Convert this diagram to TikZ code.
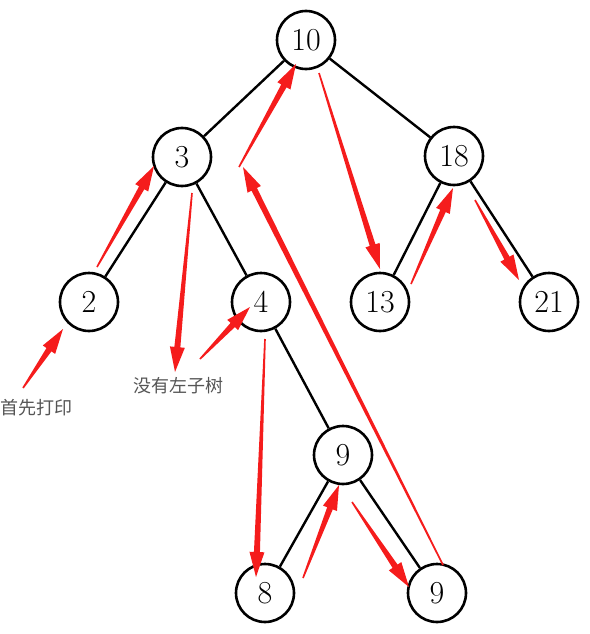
\documentclass[tikz,border=0pt]{standalone}
\usepackage{fontspec}
\newfontfamily\cjk{Noto Sans CJK SC}
\usetikzlibrary{calc}
\definecolor{trailRed}{HTML}{F51C1C}
\definecolor{noteGray}{HTML}{555555}
\tikzset{
  bnode/.style={circle, draw=black, line width=2.6pt, fill=white,
                minimum size=58pt, inner sep=0pt, font=\fontsize{32}{32}\selectfont},
  bedge/.style={draw=black, line width=2.4pt},
  note/.style={font=\cjk\fontsize{18}{18}\selectfont, text=noteGray},
  trail/.style={fill=trailRed},
}
% tapered red arrow from #1 to #2
\newcommand{\trailarrow}[2]{%
  \coordinate (tb) at ($(#2)!25pt!(#1)$);
  \fill[trail] ($(#1)!0.8pt!-90:(#2)$) -- ($(#1)!0.8pt!90:(#2)$)
    -- ($(tb)!3pt!-90:(#1)$) -- ($(tb)!7.5pt!-90:(#1)$) -- (#2)
    -- ($(tb)!7.5pt!90:(#1)$) -- ($(tb)!3pt!90:(#1)$) -- cycle;
}

\begin{document}
\begin{tikzpicture}[x=1pt, y=-1pt]
  \useasboundingbox (0,0) rectangle (589,634);
  % tree
  \node[bnode] (n10) at (306,40) {10};
  \node[bnode] (n3)  at (182,157) {3};
  \node[bnode] (n18) at (454,156) {18};
  \node[bnode] (n2)  at (89,302) {2};
  \node[bnode] (n4)  at (261,302) {4};
  \node[bnode] (n13) at (380,302) {13};
  \node[bnode] (n21) at (549,302) {21};
  \node[bnode] (n9)  at (343,455) {9};
  \node[bnode] (n8)  at (265,593) {8};
  \node[bnode] (n9r) at (437,593) {9};
  \foreach \a/\b in {n10/n3, n10/n18, n3/n2, n3/n4, n18/n13, n18/n21,
                     n4/n9, n9/n8, n9/n9r}
    \draw[bedge] (\a) -- (\b);
  % notes
  \node[note] (first) at (37,408) {首先打印};
  \node[note] (noleft) at (178,386) {没有左子树};
  % traversal arrows
  \foreach \k/\sx/\sy/\ex/\ey in {1/23/388/63/329, 2/97/267/154/166,
      3/192/193/175/372, 4/200/359/250/307, 5/265/339/256/577,
      6/303/578/339/485, 7/352/502/409/587, 8/443/565/243/167,
      9/239/167/296/64, 10/319/73/380/269, 11/411/284/453/188,
      12/475/200/519/280} {
    \coordinate (s\k) at (\sx,\sy);
    \coordinate (e\k) at (\ex,\ey);
    \trailarrow{s\k}{e\k}
  }
\end{tikzpicture}
\end{document}
